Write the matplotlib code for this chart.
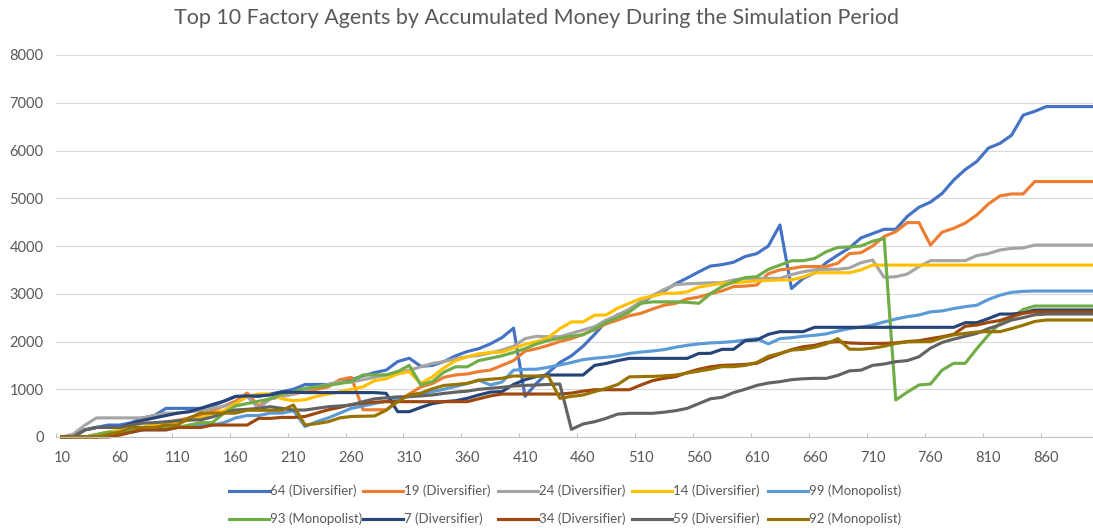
import numpy as np
import matplotlib
matplotlib.use("Agg")
import matplotlib.pyplot as plt

plt.rcParams['font.family'] = ['Lato', 'DejaVu Sans']

# simulation steps, 10..900
steps = np.arange(10, 910, 10)

labels = ['64 (Diversifier)', '19 (Diversifier)', '24 (Diversifier)', '14 (Diversifier)', '99 (Monopolist)',
          '93 (Monopolist)', '7 (Diversifier)', '34 (Diversifier)', '59 (Diversifier)', '92 (Monopolist)']
colors = ['#4472C4', '#ED7D31', '#A5A5A5', '#FFC000', '#5B9BD5',
          '#70AD47', '#264478', '#9E480E', '#636363', '#997300']

a64 = [0, 0, 150, 200, 250, 250, 300, 400, 450, 600,
       600, 600, 600, 650, 750, 850, 850, 850, 900, 950,
       1000, 1100, 1100, 1100, 1150, 1200, 1280, 1350, 1400, 1580,
       1650, 1480, 1500, 1580, 1700, 1790, 1850, 1950, 2080, 2280,
       850, 1130, 1350, 1560, 1700, 1900, 2150, 2420, 2560, 2650,
       2800, 2960, 3060, 3210, 3330, 3460, 3580, 3610, 3660, 3780,
       3840, 4000, 4440, 3110, 3320, 3440, 3650, 3810, 3960, 4170,
       4260, 4350, 4350, 4620, 4810, 4920, 5100, 5380, 5600, 5770,
       6050, 6150, 6320, 6740, 6820, 6920, 6920, 6920, 6920, 6920]
a19 = [0, 0, 0, 50, 100, 100, 150, 200, 250, 300,
       350, 400, 450, 550, 650, 750, 920, 650, 800, 850,
       900, 950, 1000, 1050, 1200, 1250, 570, 570, 570, 750,
       900, 1050, 1120, 1250, 1300, 1320, 1370, 1400, 1500, 1600,
       1800, 1850, 1920, 2000, 2060, 2150, 2250, 2370, 2450, 2540,
       2590, 2680, 2760, 2800, 2890, 2930, 3000, 3060, 3150, 3160,
       3183, 3420, 3500, 3530, 3570, 3570, 3570, 3640, 3840, 3860,
       4000, 4200, 4300, 4490, 4490, 4020, 4290, 4370, 4480, 4650,
       4880, 5050, 5090, 5090, 5350, 5350, 5350, 5350, 5350, 5350]
a24 = [0, 60, 250, 400, 400, 400, 400, 400, 450, 500,
       500, 530, 550, 600, 650, 700, 850, 600, 800, 850,
       900, 1000, 1050, 1100, 1150, 1150, 1200, 1250, 1300, 1350,
       1400, 1470, 1540, 1580, 1640, 1680, 1710, 1760, 1820, 1900,
       2060, 2110, 2100, 2100, 2170, 2240, 2310, 2450, 2550, 2680,
       2840, 2960, 3090, 3190, 3210, 3218, 3230, 3230, 3290, 3322,
       3322, 3322, 3322, 3400, 3460, 3500, 3511, 3511, 3540, 3650,
       3706, 3343, 3357, 3413, 3567, 3693, 3693, 3693, 3693, 3800,
       3840, 3916, 3950, 3960, 4020, 4020, 4020, 4020, 4020, 4020]
a14 = [0, 0, 0, 50, 100, 150, 200, 200, 250, 250,
       300, 350, 400, 500, 550, 700, 850, 900, 900, 800,
       760, 780, 850, 900, 950, 1000, 1050, 1180, 1220, 1320,
       1370, 1120, 1260, 1450, 1600, 1680, 1740, 1770, 1780, 1860,
       1940, 2000, 2080, 2270, 2410, 2410, 2550, 2555, 2700, 2800,
       2900, 2950, 3010, 3010, 3040, 3140, 3180, 3220, 3230, 3250,
       3270, 3280, 3290, 3290, 3350, 3440, 3440, 3440, 3440, 3500,
       3600, 3600, 3600, 3600, 3600, 3600, 3600, 3600, 3600, 3600,
       3600, 3600, 3600, 3600, 3600, 3600, 3600, 3600, 3600, 3600]
a99 = [0, 0, 0, 0, 50, 100, 100, 150, 150, 150,
       200, 200, 250, 250, 300, 400, 450, 450, 500, 500,
       550, 220, 320, 400, 500, 600, 650, 700, 750, 800,
       850, 900, 950, 1000, 1060, 1120, 1190, 1090, 1150, 1400,
       1417, 1420, 1460, 1508, 1560, 1620, 1650, 1670, 1700, 1750,
       1780, 1800, 1830, 1880, 1920, 1950, 1970, 1980, 2000, 2030,
       2060, 1950, 2060, 2080, 2110, 2130, 2160, 2220, 2270, 2300,
       2345, 2410, 2470, 2520, 2555, 2620, 2640, 2690, 2730, 2760,
       2880, 2970, 3030, 3050, 3057, 3057, 3057, 3057, 3057, 3057]
a93 = [0, 0, 0, 50, 100, 100, 150, 150, 200, 200,
       200, 250, 300, 300, 500, 650, 700, 750, 800, 900,
       950, 1020, 1050, 1080, 1120, 1160, 1300, 1300, 1300, 1370,
       1500, 1090, 1160, 1360, 1470, 1470, 1600, 1650, 1700, 1770,
       1850, 1950, 2020, 2070, 2110, 2140, 2260, 2400, 2500, 2620,
       2800, 2830, 2830, 2830, 2820, 2800, 3000, 3150, 3250, 3340,
       3357, 3510, 3600, 3690, 3693, 3740, 3880, 3970, 3980, 4000,
       4100, 4160, 775, 940, 1089, 1110, 1400, 1543, 1543, 1850,
       2136, 2380, 2500, 2670, 2743, 2743, 2743, 2743, 2743, 2743]
a7 = [0, 0, 150, 200, 200, 200, 280, 350, 400, 450,
      500, 530, 600, 680, 750, 850, 860, 860, 880, 940,
      940, 930, 930, 930, 930, 930, 930, 930, 914, 530,
      530, 620, 700, 740, 760, 810, 880, 940, 950, 1100,
      1200, 1270, 1298, 1298, 1298, 1298, 1500, 1540, 1600, 1647,
      1647, 1647, 1647, 1647, 1647, 1750, 1752, 1836, 1836, 2017,
      2031, 2150, 2206, 2206, 2206, 2297, 2297, 2297, 2297, 2297,
      2297, 2297, 2297, 2297, 2297, 2297, 2297, 2297, 2394, 2394,
      2480, 2575, 2575, 2600, 2659, 2659, 2659, 2659, 2659, 2659]
a34 = [0, 0, 0, 0, 0, 40, 100, 150, 150, 150,
       200, 200, 200, 250, 250, 250, 250, 390, 390, 410,
       410, 430, 500, 570, 620, 680, 705, 730, 740, 740,
       740, 740, 740, 740, 740, 740, 800, 860, 900, 900,
       900, 900, 900, 900, 920, 960, 990, 990, 990, 990,
       1089, 1180, 1230, 1263, 1350, 1420, 1470, 1500, 1508, 1520,
       1543, 1650, 1740, 1830, 1890, 1920, 1980, 1996, 1970, 1960,
       1960, 1961, 1970, 2000, 2017, 2060, 2100, 2150, 2320, 2345,
       2400, 2440, 2520, 2590, 2624, 2624, 2624, 2624, 2624, 2624]
a59 = [0, 0, 150, 200, 200, 200, 250, 290, 300, 320,
       340, 356, 360, 420, 500, 565, 580, 600, 635, 600,
       565, 565, 600, 635, 650, 670, 740, 800, 820, 840,
       845, 860, 880, 914, 940, 960, 998, 1020, 1040, 1068,
       1080, 1090, 1100, 1110, 160, 272, 320, 391, 480, 496,
       496, 496, 520, 551, 600, 700, 800, 831, 930, 1000,
       1080, 1130, 1159, 1200, 1220, 1228, 1228, 1290, 1385, 1400,
       1500, 1529, 1577, 1600, 1680, 1860, 1980, 2050, 2110, 2170,
       2270, 2350, 2450, 2500, 2560, 2575, 2575, 2575, 2575, 2575]
a92 = [0, 0, 0, 0, 50, 100, 200, 200, 200, 250,
       250, 400, 500, 500, 500, 500, 560, 560, 560, 560,
       670, 250, 280, 320, 400, 430, 435, 440, 560, 740,
       880, 920, 1010, 1080, 1100, 1124, 1190, 1210, 1230, 1277,
       1277, 1277, 1277, 810, 850, 880, 950, 1019, 1100, 1260,
       1265, 1270, 1280, 1298, 1340, 1380, 1420, 1473, 1473, 1500,
       1560, 1690, 1752, 1820, 1836, 1880, 1950, 2060, 1840, 1836,
       1860, 1900, 1961, 1990, 1996, 1996, 2080, 2140, 2170, 2200,
       2206, 2206, 2270, 2340, 2420, 2450, 2450, 2450, 2450, 2450]

series = [a64, a19, a24, a14, a99, a93, a7, a34, a59, a92]

text_col = '#595959'

fig = plt.figure(figsize=(10.93, 5.28), dpi=100)
ax = fig.add_axes([56 / 1093, 1 - 437 / 528, 1 - 56 / 1093, (437 - 55) / 528])

lines = []
for vals, lab, col in zip(series, labels, colors):
    ln, = ax.plot(steps, vals, color=col, lw=2.25, label=lab,
                  solid_joinstyle='round', clip_on=False)
    lines.append(ln)

# axes look (Excel style)
ax.set_xlim(5, 900.3)
ax.set_ylim(0, 8000)
ax.set_yticks(np.arange(0, 8001, 1000))
ax.set_xticks(np.arange(10, 861, 50))
ax.set_xticks(np.arange(5, 900, 50), minor=True)
ax.tick_params(axis='y', length=0, pad=9, labelsize=10.5, labelcolor=text_col)
ax.tick_params(axis='x', which='major', length=0, pad=10, labelsize=10.5, labelcolor=text_col)
ax.tick_params(axis='x', which='minor', length=3, direction='in', color='#BFBFBF', width=0.8)
ax.grid(axis='y', color='#D9D9D9', lw=0.8)
ax.set_axisbelow(True)
for s in ['top', 'right', 'left']:
    ax.spines[s].set_visible(False)
ax.spines['bottom'].set_color('#BFBFBF')
ax.spines['bottom'].set_linewidth(0.8)

fig.text(0.491, 0.966, 'Top 10 Factory Agents by Accumulated Money During the Simulation Period',
         ha='center', va='center', fontsize=15.5, color=text_col)

# legend: 5 columns, 2 rows
col_x = [229, 363, 498, 632, 768]
for k in range(5):
    leg = fig.legend(handles=[lines[k], lines[k + 5]], loc='center left',
                     bbox_to_anchor=(col_x[k] / 1093, 1 - 505 / 528),
                     frameon=False, fontsize=9.5, handlelength=3.0, handletextpad=0.1,
                     labelspacing=1.15, borderpad=0, borderaxespad=0)
    for t in leg.get_texts():
        t.set_color(text_col)

fig.savefig('out.png', dpi=100)
